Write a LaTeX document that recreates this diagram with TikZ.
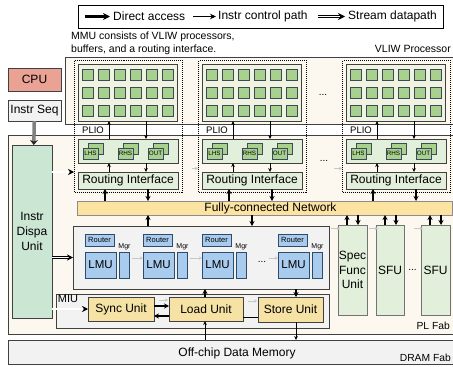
\documentclass[tikz,border=0pt]{standalone}
\usepackage{fontspec}
\setmainfont{Liberation Sans}
\usetikzlibrary{arrows.meta,calc}
\definecolor{edge}{HTML}{404040}
\definecolor{cream}{HTML}{FDF8EF}
\definecolor{arrfill}{HTML}{EFF3E0}
\definecolor{pe}{HTML}{A9D18E}
\definecolor{peedge}{HTML}{3C4A5E}
\definecolor{bufgreen}{HTML}{E2EFDA}
\definecolor{netfill}{HTML}{FCE3A2}
\definecolor{lmublue}{HTML}{A9CBEE}
\definecolor{lmuedge}{HTML}{2F4B6B}
\definecolor{panel}{HTML}{F2F2F2}
\definecolor{unitfill}{HTML}{F5E2A4}
\definecolor{cpufill}{HTML}{E9A293}
\definecolor{mint}{HTML}{CCE6D4}
\begin{document}
\begin{tikzpicture}[x=1pt,y=-1pt,
  box/.style={draw=edge, line width=0.7pt, rectangle, inner sep=0pt, outer sep=0pt, anchor=north west, align=center},
  sz/.style args={#1/#2}{font=\fontsize{#1}{#2}\selectfont},
  direct/.style={line width=1.2pt, -{Stealth[length=5pt,width=5pt]}},
  ctrl/.style={line width=0.6pt, -{Stealth[length=4pt,width=3.6pt]}},
  stream/.style={double=white, double distance=1.3pt, line width=0.6pt, -{Stealth[length=6pt,width=6pt]}},
  faint/.style={draw=black!22, line width=0.9pt, -{Stealth[length=3pt,width=3.4pt]}},
  pesq/.style={draw=peedge, fill=pe, line width=0.8pt, minimum size=11pt, inner sep=0pt, rectangle},
  bufsq/.style={box, draw=peedge, fill=pe, line width=0.6pt, minimum width=15pt, minimum height=11pt},
  dotbox/.style={draw=black, line width=1pt, dash pattern=on 1pt off 1pt, rectangle, inner sep=0pt, anchor=north west},
  lbl/.style={inner sep=0pt},
]
\useasboundingbox (0,0) rectangle (453,367);

% ---------- legend ----------
\node[box, draw=black, line width=0.8pt, fill=white, minimum width=365pt, minimum height=23pt] (legend) at (78,5) {};
\coordinate (la1) at (85,16.5);  \coordinate (la2) at (110,16.5);
\coordinate (lb1) at (193,16.5); \coordinate (lb2) at (216,16.5);
\coordinate (lc1) at (318,16.5); \coordinate (lc2) at (345,16.5);
\draw[line width=2.4pt, -{Stealth[length=7pt,width=7pt]}] (la1) -- (la2);
\draw[line width=0.9pt, -{Stealth[length=6pt,width=5.5pt]}] (lb1) -- (lb2);
\draw[double=white, double distance=1.6pt, line width=0.7pt, -{Stealth[length=7pt,width=7pt]}] (lc1) -- (lc2);
\node[lbl, anchor=west, sz=12/14] (ltxa) at (113,16.5) {Direct access};
\node[lbl, anchor=west, sz=12/14] (ltxb) at (218,16.5) {Instr control path};
\node[lbl, anchor=west, sz=12/14] (ltxc) at (348,16.5) {Stream datapath};

% ---------- captions ----------
\node[lbl, anchor=north west, align=left, sz=10.5/13] (caption) at (71,31.5)
  {MMU consists of VLIW processors,\\buffers, and a routing interface.};
\node[lbl, anchor=east, sz=10.5/12] (vliwlbl) at (451,49) {VLIW Processor};

% ---------- background regions ----------
\node[box, fill=cream, minimum width=392pt, minimum height=67pt] (vliw) at (65,57) {};
\node[box, fill=cream, minimum width=449pt, minimum height=199pt] (plfab) at (8,135) {};
\node[box, fill=panel, minimum width=449pt, minimum height=24pt] (dram) at (8,340) {};
\node[lbl, sz=12/14] (dramtxt) at (237,353) {Off-chip Data Memory};
\node[lbl, anchor=east, sz=10.3/12] (pllbl) at (450,326) {PL Fab};
\node[lbl, anchor=east, sz=10.3/12] (dramlbl) at (451,357.5) {DRAM Fab};

% ---------- host side ----------
\node[box, fill=cpufill, minimum width=53pt, minimum height=23pt, sz=12/14] (cpu) at (8,68) {CPU};
\node[box, fill=panel, minimum width=53pt, minimum height=21pt, sz=12/14] (seq) at (8,100) {Instr Seq};
\node[box, fill=mint, minimum width=40pt, minimum height=173pt, sz=12/15] (disp) at (12,145) {Instr\\Dispa\\Unit};
\draw[line width=3.5pt, draw=black!50, -{Stealth[length=5pt,width=8pt,color=black!85,fill=black!85]}] (seq) -- (disp);

% ---------- fully-connected network ----------
\node[box, draw=black!45, fill=netfill, minimum width=375pt, minimum height=14pt] (net) at (77,201) {};
\node[lbl, sz=12/14] (nettxt) at (270.5,208) {Fully-connected Network};

% ---------- MMUs ----------
\foreach \i/\L in {1/74,2/198,3/342}{
  \pgfmathsetmacro\A{\L+4}
  \node[dotbox, minimum width=108pt, minimum height=132pt] (mmu\i) at (\L,60) {};
  \node[box, fill=arrfill, minimum width=99pt, minimum height=57pt] (arr\i) at (\A,64) {};
  \foreach \c in {0,...,5}{
    \foreach \r/\rn in {75/a,93/b,111/c}{
      \node[pesq] (pe\i\c\rn) at ({\A+10+16*\c},\r) {};
    }
  }
  \node[lbl, anchor=west, sz=9.5/11] (plio\i) at ({\A+4},130.5) {PLIO};
  \node[box, fill=bufgreen, minimum width=100pt, minimum height=24pt] (buf\i) at (\A,139) {};
  \foreach \o/\t in {5/LHS,40/RHS,70/OUT}{
    \node[bufsq] (bk\i\t) at ({\A+\o+5},143) {};
    \node[bufsq, sz=6.3/7] (fr\i\t) at ({\A+\o},148) {\t};
  }
  \node[box, fill=bufgreen, minimum width=100pt, minimum height=17pt, sz=12/14] (ri\i) at (\A,172) {Routing Interface};
  % PLIO links
  \draw[ctrl] ([xshift=31pt]buf\i.north west) -- ([xshift=31pt]arr\i.south west);
  \draw[ctrl] ([xshift=68pt]arr\i.south west) -- ([xshift=68pt]buf\i.north west);
  % buffers <-> routing interface
  \draw[ctrl] ([xshift=31pt]ri\i.north west) -- ([xshift=31pt]buf\i.south west);
  \draw[ctrl] ([xshift=68pt]buf\i.south west) -- ([xshift=68pt]ri\i.north west);
  % routing interface <-> network
  \coordinate (ru\i) at ([xshift=27pt]ri\i.south west);
  \coordinate (rd\i) at ([xshift=70pt]ri\i.south west);
  \draw[direct] (ru\i |- net.north) -- (ru\i);
  \draw[direct] (rd\i) -- (rd\i |- net.north);
}
\node[lbl, sz=10/12] (mdots1) at (323,95) {...};
\node[lbl, sz=10/12] (mdots2) at (324,161) {...};
\coordinate (mg2) at (192,168.5);
\coordinate (mg3) at (334,168.5);
\draw[faint] (mg2) -- (mmu2.west |- mg2);
\draw[faint] (mg3) -- (mmu3.west |- mg3);

% ---------- LMU bank ----------
\node[box, fill=panel, minimum width=256pt, minimum height=63pt] (lmubox) at (73,226) {};
\foreach \k/\u in {1/85,2/143,3/202,4/278}{
  \node[box, draw=lmuedge, fill=lmublue, minimum width=29pt, minimum height=12pt, sz=7.5/9] (rt\k) at (\u,234) {Router};
  \node[lbl, sz=7/8] (mgl\k) at ({\u+39.5},246.5) {Mgr};
  \node[box, draw=lmuedge, fill=lmublue, minimum width=31pt, minimum height=26pt, sz=11.5/13] (lmu\k) at (\u,252) {LMU};
  \node[box, draw=lmuedge, fill=lmublue, minimum width=10pt, minimum height=26pt] (mgr\k) at ({\u+34},252) {};
}
\node[lbl, sz=10/12] (ldots) at (262,262) {...};
\draw[faint, shorten <=3pt] ([yshift=-6pt]mgr1.north east) -- ([yshift=-6pt]lmu2.north west);
\draw[faint, shorten <=3pt] ([yshift=-6pt]mgr2.north east) -- ([yshift=-6pt]lmu3.north west);
\coordinate (lg4) at ([xshift=-9pt,yshift=-6pt]lmu4.north west);
\draw[faint] (lg4) -- ([yshift=-6pt]lmu4.north west);
\coordinate (lbu) at ([xshift=75pt]lmubox.north west);
\coordinate (lbd) at ([xshift=179pt]lmubox.north west);
\draw[direct] (lbu) -- (lbu |- net.south);
\draw[direct] (lbd |- net.south) -- (lbd);

% ---------- special function units ----------
\node[box, draw=black!55, fill=bufgreen, minimum width=29pt, minimum height=90pt, sz=12/14.5] (sfu1) at (338,225) {Spec\\Func\\Unit};
\node[box, draw=black!55, fill=bufgreen, minimum width=28pt, minimum height=90pt, sz=12/14] (sfu2) at (376,225) {SFU};
\node[box, draw=black!55, fill=bufgreen, minimum width=29pt, minimum height=90pt, sz=12/14] (sfu3) at (421,225) {SFU};
\node[lbl, sz=10/12] (sdots) at (412.5,270) {...};
\foreach \s in {1,2,3}{
  \coordinate (su\s) at ([xshift=9pt]sfu\s.north west);
  \coordinate (sd\s) at ([xshift=20pt]sfu\s.north west);
  \draw[direct] (su\s) -- (su\s |- net.south);
  \draw[direct] (sd\s |- net.south) -- (sd\s);
  \coordinate (sg\s) at ([xshift=-7pt,yshift=-3.5pt]sfu\s.north west);
  \draw[faint] (sg\s) -- ([xshift=2pt,yshift=-3.5pt]sfu\s.north west);
}

% ---------- memory interface unit ----------
\node[box, fill=panel, minimum width=273pt, minimum height=34pt] (miu) at (56,294) {};
\node[lbl, sz=11/12] (miulbl) at (68,299) {MIU};
\node[box, fill=unitfill, minimum width=66pt, minimum height=24pt, sz=12/14] (sync) at (88,297) {Sync Unit};
\node[box, fill=unitfill, minimum width=74pt, minimum height=24pt, sz=12/14] (load) at (169,297) {Load Unit};
\node[box, fill=unitfill, minimum width=65pt, minimum height=25pt, sz=12/14] (store) at (258,297) {Store Unit};
\draw[direct] ([yshift=-9pt]sync.north east) -- ([yshift=-9pt]load.north west);
\draw[direct] ([yshift=-19pt]load.north west) -- ([yshift=-19pt]sync.north east);
\draw[faint, shorten <=5pt, shorten >=1pt] ([yshift=-3pt]sync.north east) -- ([yshift=-3pt]load.north west);
\draw[line width=1pt] ([yshift=-20pt]load.north east) -- ([yshift=-20pt]store.north west);
\draw[faint, shorten <=5pt, shorten >=1pt] ([yshift=-4pt]load.north east) -- ([yshift=-4pt]store.north west);
\draw[stream] (disp.east |- ri1.north) -- (mmu1.west |- ri1.north);
\draw[stream] (disp.east |- lmubox.west) -- (lmubox.west);
\draw[stream] (disp.east |- sync.west) -- (sync.west);
\coordinate (lx) at ([xshift=36pt]load.north west);
\coordinate (sx) at ([xshift=38pt]store.north west);
\draw[direct] (lx) -- (lx |- lmubox.south);
\draw[ctrl, line width=0.8pt] (lx |- dram.north) -- (lx |- load.south);
\draw[direct] (sx |- lmubox.south) -- (sx);
\draw[ctrl, line width=0.8pt] (sx |- store.south) -- (sx |- dram.north);
\end{tikzpicture}
\end{document}
